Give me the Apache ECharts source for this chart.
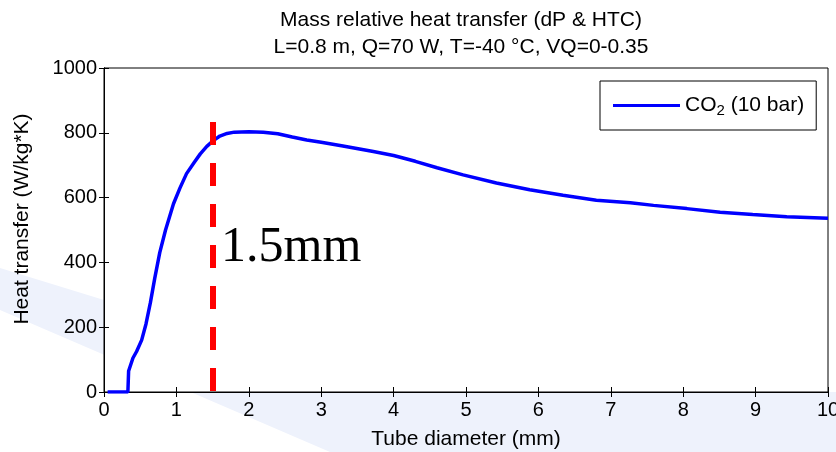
<!DOCTYPE html>
<html>
<head>
<meta charset="utf-8">
<script src="https://cdn.jsdelivr.net/npm/echarts@6/dist/echarts.min.js"></script>
<style>
  html, body { margin: 0; padding: 0; background: #fff; }
  #main { width: 836px; height: 452px; }
</style>
</head>
<body>
<div id="main"></div>
<script>
// tube diameter (mm) and heat transfer (W/kg*K)
const diameters = [0.05, 0.33, 0.34, 0.40, 0.45, 0.52, 0.58, 0.64, 0.70, 0.77, 0.85, 0.96, 1.05, 1.14, 1.25, 1.33, 1.42, 1.51, 1.60, 1.70, 1.80, 2.0, 2.2, 2.4, 2.6, 2.8, 3.0, 3.3, 3.72, 4.0, 4.3, 4.6, 4.96, 5.42, 5.88, 6.34, 6.8, 7.27, 7.59, 8.05, 8.51, 8.96, 9.43, 10];
const heatTransfer = [0, 0, 65, 105, 125, 160, 210, 275, 350, 430, 500, 581, 630, 674, 710, 735, 758, 776, 790, 798, 802, 803, 802, 797, 787, 778, 771, 759, 742, 730, 712, 692, 670, 645, 624, 607, 592, 584, 576, 566, 555, 548, 541, 536];
const markDiameter = 1.5;
const markTop = 833;

const font = 'Liberation Sans, Arial, sans-serif';
const chart = echarts.init(document.getElementById('main'));

// ticks pointing into the plot, MATLAB style
const tick = { show: true, inside: false, length: -5, lineStyle: { color: '#000' } };

const boxAxis = {
  min: 0,
  axisLine: { show: true, lineStyle: { color: '#000', width: 1 } },
  axisTick: tick,
  axisLabel: { show: false },
  splitLine: { show: false }
};

chart.setOption({
  animation: false,
  backgroundColor: '#fff',
  graphic: [
    {
      type: 'polygon', z: -10, silent: true,
      shape: { points: [[0, 268], [104, 300], [104, 392], [836, 392], [836, 452], [330, 452], [0, 310]] },
      style: { fill: '#eef2fc' }
    },
    {
      type: 'text', left: 221, top: 223, z: 100,
      style: { text: '1.5mm', font: '50px "Liberation Serif", "Times New Roman", serif', fill: '#000' }
    }
  ],
  title: {
    text: 'Mass relative heat transfer (dP & HTC)\nL=0.8 m, Q=70 W, T=-40 °C, VQ=0-0.35',
    left: 456, top: 2, textAlign: 'center',
    textStyle: { fontFamily: font, fontSize: 21, fontWeight: 'normal', color: '#000', lineHeight: 27 }
  },
  legend: {
    left: 600, top: 81,
    padding: [12, 12, 12, 13],
    borderColor: '#000', borderWidth: 1, backgroundColor: '#fff',
    icon: 'rect', itemWidth: 67, itemHeight: 3,
    itemStyle: { color: '#0000ff' },
    formatter: () => '{n|CO}{s|2}{n| (10 bar)}',
    textStyle: {
      fontFamily: font, color: '#000',
      rich: {
        n: { fontFamily: font, fontSize: 21, lineHeight: 23 },
        s: { fontFamily: font, fontSize: 15, lineHeight: 15, padding: [10, 0, 0, 0] }
      }
    },
    data: ['CO2 (10 bar)']
  },
  grid: {
    left: 104, right: 8, top: 68, bottom: 60,
    outerBoundsMode: 'none',
    show: true, backgroundColor: '#fff', borderColor: '#000'
  },
  xAxis: [
    {
      type: 'value', min: 0, max: 10, interval: 1,
      name: 'Tube diameter (mm)', nameLocation: 'middle', nameGap: 37,
      nameTextStyle: { fontFamily: font, fontSize: 21, color: '#000' },
      axisLine: { show: true, onZero: false, lineStyle: { color: '#000', width: 1 } },
      axisTick: tick,
      axisLabel: { fontFamily: font, fontSize: 20, color: '#000', margin: 8 },
      splitLine: { show: false }
    },
    Object.assign({ type: 'value', position: 'top', max: 10, interval: 1 }, boxAxis)
  ],
  yAxis: [
    {
      type: 'value', min: 0, max: 1000, interval: 200,
      name: 'Heat transfer (W/kg*K)', nameLocation: 'middle', nameGap: 71,
      nameTextStyle: { fontFamily: font, fontSize: 21, color: '#000', padding: [0, 0, 0, 22] },
      axisLine: { show: true, lineStyle: { color: '#000', width: 1 } },
      axisTick: tick,
      axisLabel: { fontFamily: font, fontSize: 20, color: '#000', margin: 7, formatter: v => String(v) },
      splitLine: { show: false }
    },
    Object.assign({ type: 'value', position: 'right', max: 1000, interval: 200 }, boxAxis)
  ],
  series: [
    {
      name: 'CO2 (10 bar)',
      type: 'line',
      xAxisIndex: 0, yAxisIndex: 0,
      data: diameters.map((d, i) => [d, heatTransfer[i]]),
      symbol: 'none',
      lineStyle: { color: '#0000ff', width: 3.5 },
      itemStyle: { color: '#0000ff' },
      markLine: {
        silent: true,
        symbol: ['none', 'none'],
        label: { show: false },
        lineStyle: { color: '#ff0000', width: 6, type: [23, 18] },
        data: [[{ coord: [markDiameter, markTop] }, { coord: [markDiameter, 0] }]]
      }
    }
  ]
});
</script>
</body>
</html>
